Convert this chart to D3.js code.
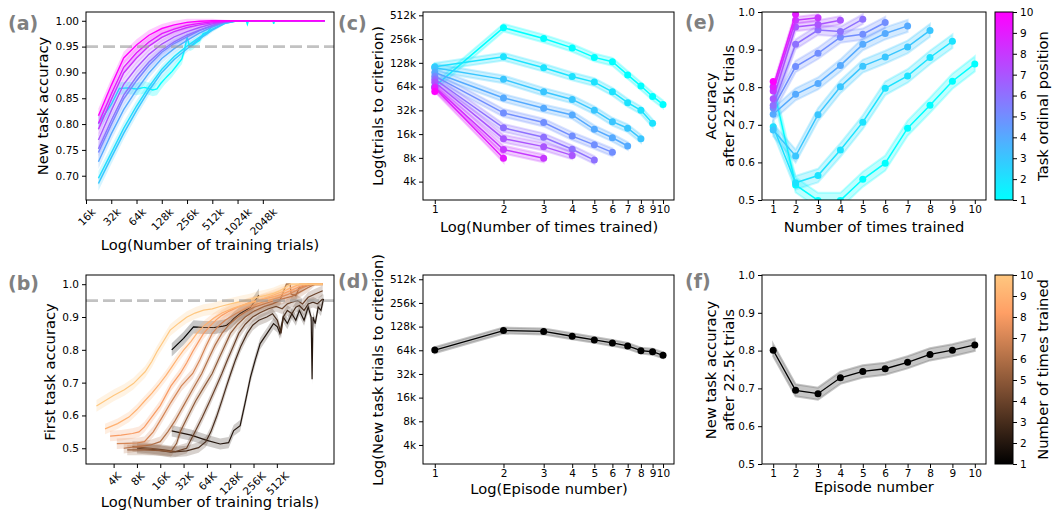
<!DOCTYPE html>
<html>
<head>
<meta charset="utf-8">
<script src="https://cdn.jsdelivr.net/npm/d3@7"></script>
<style>
body { margin: 0; background: #fff; }
svg text { font-family: "DejaVu Sans", sans-serif; }
</style>
</head>
<body>
<svg id="fig" width="1053" height="519"></svg>
<script>
/* ---------------------------- data ---------------------------- */
// (a) new task accuracy vs training trials (k), tasks 2..10 share one sampling grid
var aTrials = [22.5, 32, 45, 64, 90, 128, 180, 256, 360, 512, 720, 1024, 11200];
var aTasks = [2, 3, 4, 5, 6, 7, 8, 9, 10];
var aAcc = [
  [.695, .744, .792, .835, .872, .906, .931, .951, .968, .984, .995, 1, 1],
  [.685, .735, .782, .826, .865, .900, .925, .946, .965, .982, .995, 1, 1],
  [.727, .781, .828, .866, .899, .927, .946, .962, .976, .988, .997, 1, 1],
  [.745, .799, .849, .884, .914, .939, .956, .969, .981, .990, .997, 1, 1],
  [.752, .807, .856, .892, .920, .943, .959, .972, .982, .991, .998, 1, 1],
  [.769, .826, .877, .909, .935, .955, .969, .979, .987, .994, .998, 1, 1],
  [.790, .847, .899, .928, .951, .968, .979, .987, .992, .996, .999, 1, 1],
  [.801, .858, .910, .938, .959, .975, .984, .991, .995, .998, .999, 1, 1],
  [.816, .875, .928, .953, .972, .985, .992, .997, .999, 1, 1, 1, 1]
];
var aSem = [.014, .013, .012, .011, .010, .009, .008, .007, .005, .004, .002, .001, 0];
// task 1 (first task) is noisier, own sampling
var a1Trials = [22.5, 32, 40, 50, 64, 80, 100, 112, 125, 140, 154, 170, 190, 222, 240, 256, 275, 300, 330, 360, 400, 450, 512, 600, 720, 1300, 1340, 1380, 2700, 2760, 2820, 11200];
var a1Acc = [.801, .838, .869, .870, .868, .871, .866, .868, .879, .888, .895, .902, .912, .926, .945, .968, .950, .953, .958, .962, .975, .978, .990, .995, 1, 1, .993, 1, 1, .994, 1, 1];
var a1Sem = [.014, .013, .012, .012, .012, .012, .012, .012, .012, .011, .011, .011, .010, .010, .010, .010, .009, .009, .008, .008, .006, .006, .004, .003, .001, 0, .002, 0, 0, .002, 0, 0];

// (b) first task accuracy, one curve per number of times trained: [trials (k), acc]
var b1 = [[22.5,.80],[32,.835],[43,.87],[60,.868],[80,.868],[104,.872],[115,.875],[130,.885],[142,.895],[160,.905],[172,.911],[200,.92],[234,.93],[260,.945],[300,.967]];
var b2 = [[22.5,.553],[40,.54],[64,.524],[95,.513],[122,.517],[142,.554],[172,.569],[200,.64],[234,.717],[270,.77],[312,.819],[383,.85],[464,.88],[520,.87],[560,.85],[620,.90],[700,.88],[800,.91],[900,.89],[1000,.92],[1150,.89],[1300,.93],[1420,.90],[1460,.71],[1500,.90],[1600,.88],[1750,.93],[1900,.92],[2050,.955]];
var b3 = [[8,.50],[14,.495],[22,.488],[35,.492],[50,.502],[62,.52],[72,.55],[85,.595],[100,.645],[115,.69],[130,.728],[150,.77],[175,.81],[212,.85],[250,.875],[300,.89],[380,.90],[450,.91],[520,.89],[580,.85],[620,.90],[700,.92],[800,.91],[900,.93],[1000,.935],[1150,.92],[1300,.94],[1500,.945],[1700,.94],[2000,.955]];
var b4 = [[7,.505],[12,.50],[18,.495],[25,.49],[35,.50],[45,.55],[56,.595],[70,.645],[85,.69],[100,.728],[118,.77],[140,.81],[165,.85],[200,.878],[250,.90],[310,.913],[400,.925],[500,.932],[600,.925],[700,.94],[800,.945],[950,.95],[1100,.94],[1300,.96],[1600,.97],[2000,.98]];
var b5 = [[6,.495],[10,.495],[16,.493],[22,.49],[26,.515],[29,.55],[36,.595],[46,.645],[60,.69],[75,.728],[90,.77],[108,.81],[129,.85],[160,.878],[200,.90],[260,.918],[350,.932],[450,.94],[560,.95],[680,1],[760,1],[780,.97],[900,.965],[1000,.99],[1300,1],[2000,1]];
var b6 = [[5.4,.50],[8,.505],[12,.51],[16,.52],[20,.55],[25,.585],[32,.63],[42,.68],[55,.728],[68,.775],[82,.815],[100,.85],[125,.878],[160,.90],[200,.915],[260,.93],[350,.94],[450,.948],[600,.955],[800,.963],[1000,.975],[1300,.99],[1600,1],[2000,1]];
var b7 = [[4.4,.514],[6,.515],[8,.516],[10,.52],[13,.55],[17,.595],[22,.64],[30,.69],[42,.728],[52,.77],[62,.81],[75,.85],[90,.872],[110,.89],[150,.91],[200,.925],[250,.935],[330,.945],[420,.952],[550,.96],[700,.968],[900,.98],[1100,.99],[1500,1],[2000,1]];
var b8 = [[3.6,.537],[5,.54],[7,.545],[8.5,.55],[10,.565],[12,.59],[16,.63],[22,.69],[29,.728],[35,.76],[42,.795],[50,.825],[58,.85],[70,.872],[85,.892],[100,.905],[125,.918],[160,.93],[210,.94],[280,.948],[350,.955],[480,.962],[600,.97],[800,.982],[1000,.992],[1300,1],[2000,1]];
var b9 = [[3.1,.559],[4.5,.575],[6.3,.595],[8,.618],[9.8,.641],[12.5,.668],[15.2,.692],[19,.722],[22.6,.748],[27,.775],[32,.799],[40,.826],[47.5,.85],[60,.875],[78,.896],[100,.912],[141,.927],[190,.937],[256,.947],[350,.957],[464,.967],[600,.977],[760,.988],[1020,1],[2000,1]];
var b10 = [[2.4,.629],[4,.661],[5.5,.678],[7.2,.697],[10.2,.733],[12.5,.765],[14.5,.794],[18,.83],[21.5,.86],[28,.882],[35,.899],[45,.912],[58,.921],[75,.925],[95,.932],[130,.94],[172,.947],[230,.953],[282,.96],[370,.966],[464,.972],[560,.98],[690,.993],[760,1],[1000,1],[1500,1],[2000,1]];
var bSeries = [b1, b2, b3, b4, b5, b6, b7, b8, b9, b10];
var bSem = [.02, .017, .016, .016, .016, .016, .016, .016, .016, .018];

// (c) trials to criterion (k) per task, index = number of times trained - 1
var cTrials = [
  [64.3, 357, 260, 198, 150, 132, 90, 65, 48, 38],
  [114, 153, 111, 86, 73, 55, 40, 32, 22],
  [111, 79, 55, 44, 32, 23, 19, 14],
  [96.5, 46, 34, 28, 18.4, 14.4, 11.3],
  [86.7, 29.7, 22.4, 15.1, 11.7, 9.4],
  [79.3, 19.2, 14.6, 10.3, 7.5],
  [72.6, 14, 11.1, 8.6],
  [63.3, 10.2, 7.9],
  [61.3, 7.9],
  [55.3]
];
var cSpread = 1.12; // +- band, multiplicative

// (d) new task trials to criterion (k) per episode
var dEpisodes = [1, 2, 3, 4, 5, 6, 7, 8, 9, 10];
var dTrials = [64.3, 114, 111, 96.5, 86.7, 79.3, 72.6, 63.3, 61.3, 55.3];
var dSpread = 1.09;

// (e) accuracy after 22.5k trials per task, index = times trained - 1
var eAcc = [
  [.801, .540, .499, .499, .555, .598, .691, .752, .816, .862],
  [.695, .546, .565, .633, .707, .797, .830, .879, .922],
  [.686, .617, .727, .801, .856, .880, .907, .951],
  [.728, .781, .810, .858, .914, .943, .963],
  [.745, .855, .890, .933, .941, .972],
  [.752, .914, .952, .948, .981],
  [.769, .960, .967, .978],
  [.790, .978, .985],
  [.801, .994],
  [.815]
];
var eSem = [.02, .018, .017, .016, .015, .013, .011, .009, .007, .008];

// (f) new task accuracy after 22.5k trials per episode
var fEpisodes = [1, 2, 3, 4, 5, 6, 7, 8, 9, 10];
var fAcc = [.801, .695, .686, .728, .745, .752, .769, .790, .801, .815];
var fSem = .016;

var aTickVals = [16, 32, 64, 128, 256, 512, 1024, 2048];
var bTickVals = [4, 8, 16, 32, 64, 128, 256, 512];
var logTickVals = [4, 8, 16, 32, 64, 128, 256, 512];
var accTicksA = [0.70, 0.75, 0.80, 0.85, 0.90, 0.95, 1.00];
var accTicksB = [0.5, 0.6, 0.7, 0.8, 0.9, 1.0];
var countTicks = [1, 2, 3, 4, 5, 6, 7, 8, 9, 10];

/* --------------------------- layout --------------------------- */
var A = {x0: 86, x1: 334, y0: 12, y1: 200};
var B = {x0: 86, x1: 334, y0: 275, y1: 464};
var C = {x0: 423, x1: 674, y0: 12, y1: 200};
var D = {x0: 423, x1: 674, y0: 275, y1: 464};
var E = {x0: 762, x1: 986, y0: 12, y1: 200};
var F = {x0: 762, x1: 986, y0: 275, y1: 464};
var CBE = {x0: 995, x1: 1013, y0: 12, y1: 200};
var CBF = {x0: 995, x1: 1013, y0: 275, y1: 464};

var svg = d3.select('#fig');
var defs = svg.append('defs');

function cool(t) { return d3.rgb(255 * t, 255 * (1 - t), 255).toString(); }
function copper(t) { return d3.rgb(Math.min(1, 1.25 * t) * 255, 0.7812 * t * 255, 0.4975 * t * 255).toString(); }
function taskColor(k) { return cool((k - 1) / 9); }
function timesColor(n) { return copper((n - 1) / 9); }

/* --------------------------- helpers --------------------------- */
function plotArea(id, box) {
  defs.append('clipPath').attr('id', id).append('rect')
    .attr('x', box.x0).attr('y', box.y0)
    .attr('width', box.x1 - box.x0).attr('height', box.y1 - box.y0);
  return svg.append('g').attr('clip-path', 'url(#' + id + ')');
}

function frame(box) {
  svg.append('rect').attr('x', box.x0).attr('y', box.y0)
    .attr('width', box.x1 - box.x0).attr('height', box.y1 - box.y0)
    .attr('fill', 'none').attr('stroke', '#000').attr('stroke-width', 1);
}

function styleAxis(ax) {
  ax.select('.domain').remove();
  ax.selectAll('text').attr('font-size', 10.5).attr('fill', '#000');
  ax.selectAll('line').attr('stroke', '#000');
}

function leftAxis(box, scale, vals, fmt) {
  var ax = svg.append('g').attr('transform', 'translate(' + box.x0 + ',0)')
    .call(d3.axisLeft(scale).tickValues(vals).tickFormat(fmt).tickSize(4).tickSizeOuter(0).tickPadding(3));
  styleAxis(ax);
  return ax;
}

function bottomAxis(box, scale, vals, fmt, rotate) {
  var ax = svg.append('g').attr('transform', 'translate(0,' + box.y1 + ')')
    .call(d3.axisBottom(scale).tickValues(vals).tickFormat(fmt).tickSize(4).tickSizeOuter(0).tickPadding(2));
  styleAxis(ax);
  if (rotate) {
    ax.selectAll('.tick text').each(function () {
      var w = this.getComputedTextLength();
      var off = 7 + (w + 8) / (2 * Math.SQRT2);
      d3.select(this).attr('y', 0).attr('dy', null)
        .attr('text-anchor', 'middle').attr('dominant-baseline', 'central')
        .attr('transform', 'translate(0,' + off + ') rotate(-45)');
    });
  }
  return ax;
}

function text(str, x, y, size, rot, opts) {
  var t = svg.append('text').text(str).attr('font-size', size)
    .attr('text-anchor', 'middle').attr('fill', '#000');
  if (rot) {
    t.attr('transform', 'translate(' + x + ',' + y + ') rotate(-90)').attr('dy', '0.35em');
  } else {
    t.attr('x', x).attr('y', y);
  }
  if (opts) for (var k in opts) t.attr(k, opts[k]);
  return t;
}

function panelLetter(str, x, y) {
  svg.append('text').text(str).attr('x', x).attr('y', y)
    .attr('font-size', 19).attr('font-weight', 'bold').attr('fill', '#808080');
}

function dashed(plot, box, yv) {
  plot.append('line').attr('x1', box.x0).attr('x2', box.x1).attr('y1', yv).attr('y2', yv)
    .attr('stroke', '#999').attr('stroke-opacity', 0.6).attr('stroke-width', 2.6)
    .attr('stroke-dasharray', '12,5');
}

function colorbar(id, box, cmap, label) {
  var grad = defs.append('linearGradient').attr('id', id)
    .attr('x1', 0).attr('y1', 1).attr('x2', 0).attr('y2', 0);
  d3.range(0, 1.0001, 0.1).forEach(function (t) {
    grad.append('stop').attr('offset', t).attr('stop-color', cmap(t));
  });
  svg.append('rect').attr('x', box.x0).attr('y', box.y0)
    .attr('width', box.x1 - box.x0).attr('height', box.y1 - box.y0)
    .attr('fill', 'url(#' + id + ')').attr('stroke', '#000').attr('stroke-width', 1);
  var s = d3.scaleLinear().domain([1, 10]).range([box.y1, box.y0]);
  var ax = svg.append('g').attr('transform', 'translate(' + box.x1 + ',0)')
    .call(d3.axisRight(s).tickValues(countTicks).tickFormat(d3.format('d')).tickSize(4).tickSizeOuter(0).tickPadding(3));
  styleAxis(ax);
  text(label, 1043, (box.y0 + box.y1) / 2, 14.7, true);
}

/* ------------------------- panel (a) ------------------------- */
var ax_a = d3.scaleLog().base(2).domain([16, 14440]).range([A.x0, A.x1]);
var ay_a = d3.scaleLinear().domain([0.653, 1.017]).range([A.y1, A.y0]);
var pa = plotArea('clipA', A);

function drawBandLine(plot, xs, ys, sems, color, xs_, ys_, lw, op) {
  var pts = xs.map(function (x, i) { return [x, ys[i], sems[i]]; });
  plot.append('path').datum(pts)
    .attr('d', d3.area().x(function (d) { return xs_(d[0]); })
      .y0(function (d) { return ys_(d[1] - d[2]); })
      .y1(function (d) { return ys_(d[1] + d[2]); }))
    .attr('fill', color).attr('fill-opacity', op);
  plot.append('path').datum(pts)
    .attr('d', d3.line().x(function (d) { return xs_(d[0]); }).y(function (d) { return ys_(d[1]); }))
    .attr('fill', 'none').attr('stroke', color).attr('stroke-width', lw);
}

drawBandLine(pa, a1Trials, a1Acc, a1Sem, taskColor(1), ax_a, ay_a, 1.4, 0.25);
aTasks.forEach(function (k, i) {
  drawBandLine(pa, aTrials, aAcc[i], aSem, taskColor(k), ax_a, ay_a, 1.4, 0.2);
});
dashed(pa, A, ay_a(0.95));
frame(A);
leftAxis(A, ay_a, accTicksA, d3.format('.2f'));
bottomAxis(A, ax_a, aTickVals, function (d) { return d + 'k'; }, true);
text('New task accuracy', 43, 106, 14.7, true);
text('Log(Number of training trials)', 210, 250, 14.7, false);
panelLetter('(a)', 8, 30);

/* ------------------------- panel (b) ------------------------- */
var ax_b = d3.scaleLog().base(2).domain([1.76, 2800]).range([B.x0, B.x1]);
var ay_b = d3.scaleLinear().domain([0.452, 1.028]).range([B.y1, B.y0]);
var pb = plotArea('clipB', B);
bSeries.forEach(function (s, i) {
  var col = timesColor(i + 1);
  // band narrows where the curve saturates at 1.0
  drawBandLine(pb, s.map(function (d) { return d[0]; }), s.map(function (d) { return d[1]; }),
    s.map(function (d) { return Math.min(bSem[i], 1.004 - d[1]); }), col, ax_b, ay_b, 1.2, 0.22);
});
dashed(pb, B, ay_b(0.95));
frame(B);
leftAxis(B, ay_b, accTicksB, d3.format('.1f'));
bottomAxis(B, ax_b, bTickVals, function (d) { return d + 'K'; }, true);
text('First task accuracy', 50, 372, 14.7, true);
text('Log(Number of training trials)', 210, 507, 14.7, false);
panelLetter('(b)', 8, 290);

/* ------------------------- panel (c) ------------------------- */
var ax_c = d3.scaleLog().domain([0.888, 11.17]).range([C.x0, C.x1]);
var ay_c = d3.scaleLog().base(2).domain([2.34, 564]).range([C.y1, C.y0]);
var pc = plotArea('clipC', C);
cTrials.forEach(function (vals, i) {
  var col = taskColor(i + 1);
  var pts = vals.map(function (v, j) { return [j + 1, v]; });
  pc.append('path').datum(pts)
    .attr('d', d3.area().x(function (d) { return ax_c(d[0]); })
      .y0(function (d) { return ay_c(d[1] / cSpread); })
      .y1(function (d) { return ay_c(d[1] * cSpread); }))
    .attr('fill', col).attr('fill-opacity', 0.25)
    .attr('stroke', col).attr('stroke-opacity', 0.25).attr('stroke-width', 2);
  pc.append('path').datum(pts)
    .attr('d', d3.line().x(function (d) { return ax_c(d[0]); }).y(function (d) { return ay_c(d[1]); }))
    .attr('fill', 'none').attr('stroke', col).attr('stroke-width', 1.5);
  pc.selectAll(null).data(pts).enter().append('circle')
    .attr('cx', function (d) { return ax_c(d[0]); }).attr('cy', function (d) { return ay_c(d[1]); })
    .attr('r', 3.5).attr('fill', col);
});
frame(C);
leftAxis(C, ay_c, logTickVals, function (d) { return d + 'k'; });
bottomAxis(C, ax_c, countTicks, d3.format('d'), false);
text('Log(trials to criterion)', 378, 106, 14.7, true);
text('Log(Number of times trained)', 549, 232, 14.7, false);
panelLetter('(c)', 338, 30);

/* ------------------------- panel (d) ------------------------- */
var ax_d = d3.scaleLog().domain([0.888, 11.17]).range([D.x0, D.x1]);
var ay_d = d3.scaleLog().base(2).domain([2.29, 580]).range([D.y1, D.y0]);
var pd = plotArea('clipD', D);
var dPts = dEpisodes.map(function (e, i) { return [e, dTrials[i]]; });
pd.append('path').datum(dPts)
  .attr('d', d3.area().x(function (d) { return ax_d(d[0]); })
    .y0(function (d) { return ay_d(d[1] / dSpread); })
    .y1(function (d) { return ay_d(d[1] * dSpread); }))
  .attr('fill', 'gray').attr('fill-opacity', 0.45)
  .attr('stroke', 'gray').attr('stroke-opacity', 0.45).attr('stroke-width', 2);
pd.append('path').datum(dPts)
  .attr('d', d3.line().x(function (d) { return ax_d(d[0]); }).y(function (d) { return ay_d(d[1]); }))
  .attr('fill', 'none').attr('stroke', '#000').attr('stroke-width', 1.3);
pd.selectAll(null).data(dPts).enter().append('circle')
  .attr('cx', function (d) { return ax_d(d[0]); }).attr('cy', function (d) { return ay_d(d[1]); })
  .attr('r', 3.5).attr('fill', '#000');
frame(D);
leftAxis(D, ay_d, logTickVals, function (d) { return d + 'k'; });
bottomAxis(D, ax_d, countTicks, d3.format('d'), false);
text('Log(New task trials to criterion)', 378, 370, 14.7, true);
text('Log(Episode number)', 549, 494, 14.7, false);
panelLetter('(d)', 338, 288);

/* ------------------------- panel (e) ------------------------- */
var ax_e = d3.scaleLinear().domain([0.5, 10.5]).range([E.x0, E.x1]);
var ay_e = d3.scaleLinear().domain([0.5, 1.0]).range([E.y1, E.y0]);
var pe = plotArea('clipE', E);
eAcc.forEach(function (vals, i) {
  var col = taskColor(i + 1);
  var pts = vals.map(function (v, j) { return [j + 1, v]; });
  pe.append('path').datum(pts)
    .attr('d', d3.area().x(function (d) { return ax_e(d[0]); })
      .y0(function (d) { return ay_e(d[1] - eSem[i]); })
      .y1(function (d) { return ay_e(d[1] + eSem[i]); }))
    .attr('fill', col).attr('fill-opacity', 0.25)
    .attr('stroke', col).attr('stroke-opacity', 0.25).attr('stroke-width', 2);
  pe.append('path').datum(pts)
    .attr('d', d3.line().x(function (d) { return ax_e(d[0]); }).y(function (d) { return ay_e(d[1]); }))
    .attr('fill', 'none').attr('stroke', col).attr('stroke-width', 1.5);
  pe.selectAll(null).data(pts).enter().append('circle')
    .attr('cx', function (d) { return ax_e(d[0]); }).attr('cy', function (d) { return ay_e(d[1]); })
    .attr('r', 3.5).attr('fill', col);
});
frame(E);
leftAxis(E, ay_e, accTicksB, d3.format('.1f'));
bottomAxis(E, ax_e, countTicks, d3.format('d'), false);
text('Accuracy', 711, 106, 14.7, true);
text('after 22.5k trials', 729, 106, 14.7, true);
text('Number of times trained', 874, 232, 14.7, false);
panelLetter('(e)', 685, 29);
colorbar('gradCool', CBE, cool, 'Task ordinal position');

/* ------------------------- panel (f) ------------------------- */
var ax_f = d3.scaleLinear().domain([0.5, 10.5]).range([F.x0, F.x1]);
var ay_f = d3.scaleLinear().domain([0.5, 1.0]).range([F.y1, F.y0]);
var pf = plotArea('clipF', F);
var fPts = fEpisodes.map(function (e, i) { return [e, fAcc[i]]; });
pf.append('path').datum(fPts)
  .attr('d', d3.area().x(function (d) { return ax_f(d[0]); })
    .y0(function (d) { return ay_f(d[1] - fSem); })
    .y1(function (d) { return ay_f(d[1] + fSem); }))
  .attr('fill', 'gray').attr('fill-opacity', 0.45)
  .attr('stroke', 'gray').attr('stroke-opacity', 0.45).attr('stroke-width', 2);
pf.append('path').datum(fPts)
  .attr('d', d3.line().x(function (d) { return ax_f(d[0]); }).y(function (d) { return ay_f(d[1]); }))
  .attr('fill', 'none').attr('stroke', '#000').attr('stroke-width', 1.3);
pf.selectAll(null).data(fPts).enter().append('circle')
  .attr('cx', function (d) { return ax_f(d[0]); }).attr('cy', function (d) { return ay_f(d[1]); })
  .attr('r', 3.5).attr('fill', '#000');
frame(F);
leftAxis(F, ay_f, accTicksB, d3.format('.1f'));
bottomAxis(F, ax_f, countTicks, d3.format('d'), false);
text('New task accuracy', 711, 370, 14.7, true);
text('after 22.5k trials', 729, 370, 14.7, true);
text('Episode number', 874, 492, 14.7, false);
panelLetter('(f)', 685, 288);
colorbar('gradCopper', CBF, copper, 'Number of times trained');
</script>
</body>
</html>
